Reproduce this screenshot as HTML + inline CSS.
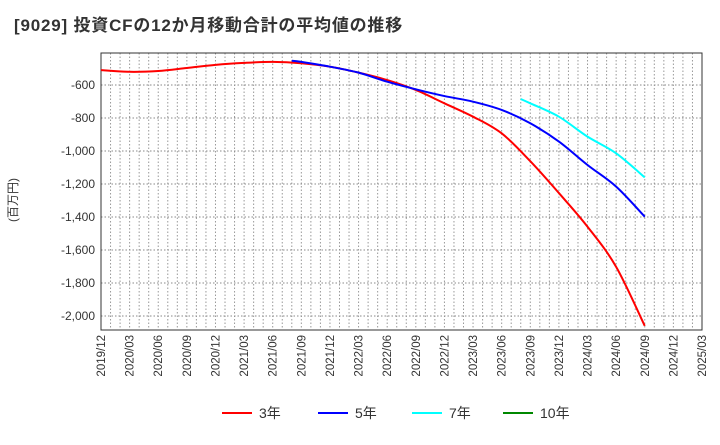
<!DOCTYPE html>
<html><head><meta charset="utf-8"><style>
body{margin:0;background:#fff;font-family:"Liberation Sans","Noto Sans CJK JP",sans-serif;}
svg text{font-family:"Liberation Sans","Noto Sans CJK JP",sans-serif;}
</style></head><body>
<svg id="chart" width="720" height="440" xmlns="http://www.w3.org/2000/svg">
<text x="14" y="31" font-size="17" font-weight="bold" fill="#333" letter-spacing="0.8">[9029]  投資CFの12か月移動合計の平均値の推移</text>
<text transform="translate(17,200) rotate(-90)" font-size="12" fill="#333" text-anchor="middle">(百万円)</text>
<g id="grid"></g><g id="axes"></g><g id="series"></g><g id="legend"></g>
</svg>
<script>
const xTickLabels=["2019/12","2020/03","2020/06","2020/09","2020/12","2021/03","2021/06","2021/09","2021/12","2022/03","2022/06","2022/09","2022/12","2023/03","2023/06","2023/09","2023/12","2024/03","2024/06","2024/09","2024/12","2025/03"];
const yTicks=[-600,-800,-1000,-1200,-1400,-1600,-1800,-2000];
const yTickLabels=["-600","-800","-1,000","-1,200","-1,400","-1,600","-1,800","-2,000"];
const s3Months=[0,3,6,9,12,15,18,21,24,27,30,33,36,39,42,45,48,51,54,57];
const s3Values=[-510,-520,-515,-497,-478,-466,-460,-468,-489,-525,-570,-630,-711,-792,-893,-1062,-1255,-1459,-1702,-2060];
const s5Months=[20,21,24,27,30,33,36,39,42,45,48,51,54,57];
const s5Values=[-453,-460,-489,-525,-580,-626,-667,-701,-751,-832,-943,-1085,-1216,-1398];
const s7Months=[44,45,48,51,54,57];
const s7Values=[-685,-711,-792,-913,-1014,-1160];
const legendNames=["3年","5年","7年","10年"];
const L=101,R=702,T=53,B=330,yMax=-406,yMin=-2085,nMonths=63;
const X=m=>L+(R-L)*m/nMonths;
const Y=v=>T+(B-T)*(yMax-v)/(yMax-yMin);
const NS="http://www.w3.org/2000/svg";
function mk(tag,parent,attrs){const e=document.createElementNS(NS,tag);for(const k in attrs)e.setAttribute(k,attrs[k]);document.getElementById(parent).appendChild(e);return e;}
for(let m=1;m<nMonths;m++){
 const l=mk("line","grid",{x1:X(m),x2:X(m),y1:T,y2:B,stroke:"#999","stroke-dasharray":"1.5,2","stroke-width":1});
 
 
}
yTicks.forEach((v,i)=>{
 const l=mk("line","grid",{x1:L,x2:R,y1:Y(v),y2:Y(v),stroke:"#888","stroke-dasharray":"1.5,2","stroke-width":1});
 
 
 const t=mk("text","axes",{x:L-6,y:Y(v)+4,"font-size":12,fill:"#333","text-anchor":"end"});
 t.textContent=yTickLabels[i];
 
 
});
xTickLabels.forEach((s,i)=>{
 const x=X(i*3);
 const t=mk("text","axes",{transform:`translate(${x+4},${B+5}) rotate(-90)`,"font-size":11.5,fill:"#333","text-anchor":"end"});
 t.textContent=s;
 
 
});
const frame=mk("rect","axes",{x:L,y:T,width:R-L,height:B-T,fill:"none",stroke:"#333","stroke-width":1});


function draw(ms,vs,color,name){
 const P=ms.map((m,i)=>[X(m),Y(vs[i])]);
 let d="M"+P[0][0]+","+P[0][1];
 for(let i=0;i<P.length-1;i++){
  const p0=P[Math.max(0,i-1)],p1=P[i],p2=P[i+1],p3=P[Math.min(P.length-1,i+2)];
  const c1=[p1[0]+(p2[0]-p0[0])/6,p1[1]+(p2[1]-p0[1])/6];
  const c2=[p2[0]-(p3[0]-p1[0])/6,p2[1]-(p3[1]-p1[1])/6];
  d+=` C${c1[0]},${c1[1]} ${c2[0]},${c2[1]} ${p2[0]},${p2[1]}`;
 }
 const p=mk("path","series",{d:d,fill:"none",stroke:color,"stroke-width":2});
 
 
}
draw(s3Months,s3Values,"#f00","series-3y-line");
draw(s5Months,s5Values,"#00f","series-5y-line");
draw(s7Months,s7Values,"#0ff","series-7y-line");
const lc=["#f00","#00f","#0ff","#080"],lx=[222,318,412,503];
legendNames.forEach((n,i)=>{
 const l=mk("line","legend",{x1:lx[i],x2:lx[i]+30,y1:413,y2:413,stroke:lc[i],"stroke-width":2});
 
 
 const t=mk("text","legend",{x:lx[i]+37,y:418,"font-size":14,fill:"#333"});
 t.textContent=n;
 
 
});
</script>
</body></html>
